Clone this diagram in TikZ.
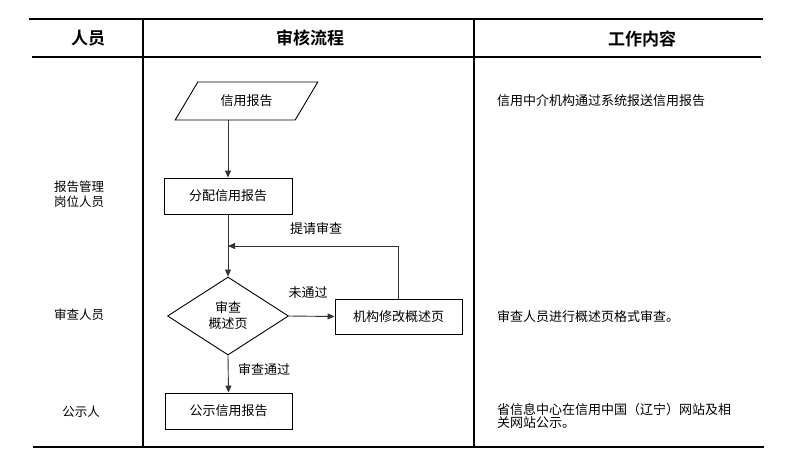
\documentclass[tikz,border=0pt]{standalone}
\usepackage{fontspec}
\newfontfamily\cjk{Noto Sans CJK SC}
\newfontfamily\cjkb{Noto Sans CJK SC Bold}
\usetikzlibrary{shapes.geometric,arrows.meta}
\tikzset{
  rule/.style={line width=1.8pt,black},
  hdr/.style={font=\cjkb\fontsize{17}{20}\selectfont,inner sep=0pt},
  txt/.style={font=\cjk\fontsize{12.5}{15}\selectfont,inner sep=0pt},
  rtxt/.style={font=\cjk\fontsize{13}{15}\selectfont,inner sep=0pt,anchor=west},
  lbl/.style={font=\cjk\fontsize{13}{15}\selectfont,inner sep=0pt},
  box/.style={draw,line width=0.9pt,rectangle,inner sep=0pt,font=\cjk\fontsize{13}{15}\selectfont},
  conn/.style={line width=0.9pt,draw=black!80},
  arr/.style={conn,-{Triangle[length=7pt,width=6pt]}}
}
\begin{document}
\begin{tikzpicture}[x=1pt,y=-1pt]
\useasboundingbox (0,0) rectangle (786,466);
% table rules
\draw[rule] (29,19) -- (763,19);
\draw[rule] (32,57) -- (761,57);
\draw[rule] (33,447) -- (764,447);
\draw[rule] (143,19) -- (143,447);
\draw[rule] (474,19) -- (474,447);
% header
\node[hdr] (h1) at (88,38) {人员};
\node[hdr] (h2) at (310,38) {审核流程};
\node[hdr] (h3) at (642,39) {工作内容};
% left column
\node[txt,align=center] (p1) at (79,194) {报告管理\\岗位人员};
\node[txt] (p2) at (79,315) {审查人员};
\node[txt] (p3) at (81,412) {公示人};
% right column
\node[rtxt] (r1) at (497,101) {信用中介机构通过系统报送信用报告};
\node[rtxt] (r2) at (497,317) {审查人员进行概述页格式审查。};
\node[rtxt,align=left,font=\cjk\fontsize{13}{12.5}\selectfont] (r3) at (497,416) {省信息中心在信用中国（辽宁）网站及相\\关网站公示。};
% flowchart
\node[draw,line width=0.9pt,trapezium,trapezium left angle=45,trapezium right angle=135,
      trapezium stretches=true,minimum width=143pt,minimum height=38pt,inner sep=0pt,
      font=\cjk\fontsize{13}{15}\selectfont] (s) at (246.5,101) {信用报告};
\node[box,minimum width=128pt,minimum height=36pt] (f) at (228,196) {分配信用报告};
\node[draw,line width=0.9pt,diamond,minimum width=121pt,minimum height=78pt,inner sep=0pt,
      align=center,font=\cjk\fontsize{13}{16}\selectfont] (d) at (228,316) {审查\\概述页};
\node[box,minimum width=127pt,minimum height=35pt] (m) at (398.5,316.5) {机构修改概述页};
\node[box,minimum width=127pt,minimum height=36pt] (g) at (228.5,411) {公示信用报告};
\coordinate (fb) at (228,246);
\draw[arr] (f.north |- s.south) -- (f.north);
\draw[arr] (f.south) -- (d.north);
\draw[arr] (d.east) -- (m.west);
\draw[arr] (m.north) |- (fb);
\draw[arr] (d.south) -- (g.north);
\node[lbl] (l1) at (316,229) {提请审查};
\node[lbl] (l2) at (308,293) {未通过};
\node[lbl] (l3) at (264,369) {审查通过};
\end{tikzpicture}
\end{document}
